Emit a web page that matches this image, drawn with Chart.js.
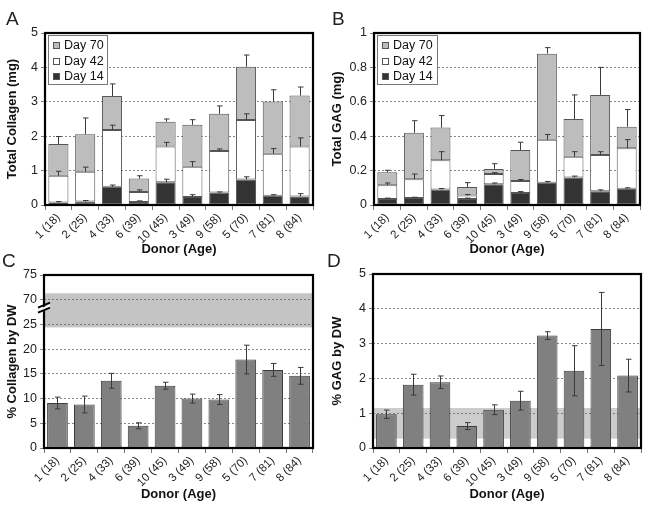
<!DOCTYPE html>
<html>
<head>
<meta charset="utf-8">
<script src="https://cdn.jsdelivr.net/npm/chart.js@4.4.0/dist/chart.umd.min.js"></script>
<style>
  body { margin: 0; background: #fff; }
  #wrap { position: relative; width: 649px; height: 505px; overflow: hidden; }
  canvas { position: absolute; }
</style>
</head>
<body>
<div id="wrap">
  <canvas id="chartA" width="325" height="260" style="left:0;top:0"></canvas>
  <canvas id="chartB" width="324" height="260" style="left:325px;top:0"></canvas>
  <canvas id="chartC" width="325" height="255" style="left:0;top:250px"></canvas>
  <canvas id="chartD" width="324" height="255" style="left:325px;top:250px"></canvas>
</div>
<script>
// donors (age) - same order in all four panels
const donors = ['1 (18)', '2 (25)', '4 (33)', '6 (39)', '10 (45)', '3 (49)', '9 (58)', '5 (70)', '7 (81)', '8 (84)'];

// A: total collagen (mg), amount added at each time point (stacked)
const colDay14 = [0.07, 0.10, 0.53, 0.09, 0.66, 0.23, 0.36, 0.74, 0.27, 0.25];
const colDay42 = [0.78, 0.87, 1.65, 0.29, 1.04, 0.88, 1.21, 1.73, 1.22, 1.45];
const colDay70 = [0.92, 1.09, 0.99, 0.39, 0.72, 1.22, 1.08, 1.55, 1.52, 1.48];
const colErr14 = [0.03, 0.03, 0.05, 0.03, 0.09, 0.07, 0.02, 0.08, 0.03, 0.08];
const colErr42 = [0.13, 0.13, 0.14, 0.06, 0.12, 0.15, 0.06, 0.18, 0.15, 0.25];
const colErr70 = [0.22, 0.47, 0.35, 0.08, 0.08, 0.15, 0.23, 0.34, 0.34, 0.25];

// B: total GAG (mg)
const gagDay14 = [0.035, 0.04, 0.09, 0.035, 0.12, 0.07, 0.13, 0.16, 0.08, 0.095];
const gagDay42 = [0.08, 0.11, 0.17, 0.02, 0.06, 0.07, 0.25, 0.12, 0.21, 0.235];
const gagDay70 = [0.075, 0.27, 0.19, 0.05, 0.03, 0.18, 0.50, 0.22, 0.35, 0.125];
const gagErr14 = [0.005, 0.005, 0.006, 0.005, 0.008, 0.008, 0.007, 0.008, 0.008, 0.005];
const gagErr42 = [0.013, 0.03, 0.05, 0.006, 0.008, 0.008, 0.03, 0.03, 0.02, 0.05];
const gagErr70 = [0.012, 0.07, 0.07, 0.025, 0.03, 0.045, 0.035, 0.14, 0.16, 0.10];

// C: % collagen by dry weight (axis is broken between 25 and 70)
const colPct = [9.1, 8.8, 13.6, 4.5, 12.6, 10.0, 9.8, 17.9, 15.8, 14.6];
const colPctErr = [1.2, 1.7, 1.5, 0.6, 0.7, 0.9, 1.0, 2.9, 1.3, 1.7];
const colPctTickLabels = ['0', '5', '10', '15', '20', '25', '70', '75'];
const colNativeBand = [24.4, 31.3];

// D: % GAG by dry weight
const gagPct = [0.97, 1.82, 1.89, 0.63, 1.10, 1.36, 3.23, 2.22, 3.42, 2.08];
const gagPctErr = [0.12, 0.30, 0.18, 0.10, 0.14, 0.27, 0.11, 0.72, 1.05, 0.47];
const gagNativeBand = [0.27, 1.15];

Chart.defaults.font.family = '"Liberation Sans", Arial, sans-serif';
Chart.defaults.color = '#111';

const legendItems = [
    { label: 'Day 70', fill: '#bdbdbd' },
    { label: 'Day 42', fill: '#ffffff' },
    { label: 'Day 14', fill: '#333333' }
];

// extra drawing: native tissue band, error bars, legend box, frame, panel letter
function extras(cfg) {
    return {
        id: 'extras',
        beforeDraw(chart) {
            if (!cfg.band) return;
            const a = chart.chartArea, y = chart.scales.y, ctx = chart.ctx;
            const y1 = y.getPixelForValue(cfg.band[1]), y0 = y.getPixelForValue(cfg.band[0]);
            ctx.save();
            ctx.fillStyle = cfg.bandColor;
            ctx.fillRect(a.left, y1, a.right - a.left, y0 - y1);
            ctx.restore();
        },
        afterDatasetsDraw(chart) {
            const ctx = chart.ctx, y = chart.scales.y;
            const unit = y.getPixelForValue(0) - y.getPixelForValue(1);
            ctx.save();
            ctx.strokeStyle = '#3a3a3a';
            ctx.lineWidth = 1;
            cfg.errors.forEach((errs, di) => {
                const meta = chart.getDatasetMeta(di);
                meta.data.forEach((bar, i) => {
                    const d = errs[i] * unit;
                    const x = Math.round(bar.x) + 0.5;
                    const top = bar.y - d;
                    const bot = cfg.twoSided ? bar.y + d : bar.y;
                    ctx.beginPath();
                    ctx.moveTo(x, bot); ctx.lineTo(x, top);
                    ctx.moveTo(x - 2.5, top); ctx.lineTo(x + 3, top);
                    if (cfg.twoSided) { ctx.moveTo(x - 2.5, bot); ctx.lineTo(x + 3, bot); }
                    ctx.stroke();
                });
            });
            if (cfg.legend) {
                const L = cfg.legend;
                ctx.fillStyle = '#fff';
                ctx.fillRect(L.x, L.y, L.w, L.h);
                ctx.strokeStyle = '#777';
                ctx.strokeRect(L.x + 0.5, L.y + 0.5, L.w, L.h);
                ctx.font = '12.5px "Liberation Sans", Arial, sans-serif';
                ctx.textBaseline = 'middle';
                legendItems.forEach((it, k) => {
                    const cy = Math.round(L.y + 10 + k * 15.5);
                    ctx.fillStyle = it.fill;
                    ctx.fillRect(L.x + 5, cy - 3, 7, 7);
                    ctx.strokeStyle = '#555';
                    ctx.strokeRect(L.x + 5.5, cy - 2.5, 6, 6);
                    ctx.fillStyle = '#111';
                    ctx.fillText(it.label, L.x + 16, cy + 1);
                });
            }
            ctx.restore();
        },
        afterDraw(chart) {
            const a = chart.chartArea, ctx = chart.ctx;
            ctx.save();
            ctx.strokeStyle = '#000';
            ctx.lineWidth = 2.2;
            ctx.strokeRect(a.left, a.top, a.right - a.left, a.bottom - a.top);
            if (cfg.axisBreak) {
                const yb = chart.scales.y.getPixelForValue(28.2);
                ctx.fillStyle = '#fff';
                ctx.beginPath();
                ctx.moveTo(a.left - 6, yb + 1); ctx.lineTo(a.left + 6, yb - 4);
                ctx.lineTo(a.left + 6, yb); ctx.lineTo(a.left - 6, yb + 5);
                ctx.closePath(); ctx.fill();
                ctx.lineWidth = 2;
                ctx.beginPath();
                ctx.moveTo(a.left - 6, yb - 1); ctx.lineTo(a.left + 6, yb - 6);
                ctx.moveTo(a.left - 6, yb + 4); ctx.lineTo(a.left + 6, yb - 1);
                ctx.stroke();
            }
            ctx.fillStyle = '#222';
            ctx.font = '19px "Liberation Sans", Arial, sans-serif';
            ctx.textBaseline = 'alphabetic';
            ctx.fillText(cfg.letter, cfg.letterX, cfg.letterY);
            ctx.restore();
        }
    };
}

function makeScales(o) {
    return {
        x: {
            stacked: o.stacked,
            afterFit: s => { s.height = o.xH; },
            grid: { offset: true, drawOnChartArea: false, tickLength: 5, color: '#777' },
            border: { display: false },
            ticks: { minRotation: 45, maxRotation: 45, autoSkip: false, padding: 1, font: { size: 11.5 }, color: '#222' },
            title: { display: true, text: 'Donor (Age)', font: { size: 13, weight: 'bold' }, color: '#111', padding: { top: 0, bottom: 3 } }
        },
        y: {
            stacked: o.stacked,
            min: o.min, max: o.max,
            afterFit: s => { s.width = o.yW; },
            grid: { color: '#666', lineWidth: 0.8, tickLength: 4, tickColor: '#666', tickBorderDash: [] },
            border: { display: false, dash: [2, 2] },
            ticks: { stepSize: o.step, padding: 3, font: { size: 12.5 }, color: '#222', callback: o.tickCb },
            title: { display: true, text: o.title, font: { size: 13, weight: 'bold' }, color: '#111', padding: { top: 5, bottom: 2 } }
        }
    };
}

function stackedSets(d14, d42, d70) {
    const base = { borderColor: '#555', borderWidth: 1, borderSkipped: false, barPercentage: 0.75, categoryPercentage: 1 };
    return [
        Object.assign({ label: 'Day 14', data: d14, backgroundColor: '#333333' }, base),
        Object.assign({ label: 'Day 42', data: d42, backgroundColor: '#ffffff' }, base),
        Object.assign({ label: 'Day 70', data: d70, backgroundColor: '#bdbdbd' }, base)
    ];
}

const common = {
    responsive: false,
    animation: false,
    plugins: { legend: { display: false }, tooltip: { enabled: false } }
};

// Panel A
new Chart(document.getElementById('chartA'), {
    type: 'bar',
    data: { labels: donors, datasets: stackedSets(colDay14, colDay42, colDay70) },
    options: Object.assign({}, common, {
        layout: { padding: { top: 33, right: 12, left: 0, bottom: 0 } },
        scales: makeScales({ stacked: true, min: 0, max: 5, step: 1, yW: 45, xH: 55, title: 'Total Collagen (mg)' })
    }),
    plugins: [extras({
        errors: [colErr14, colErr42, colErr70],
        legend: { x: 48, y: 35, w: 59, h: 49 },
        letter: 'A', letterX: 6, letterY: 25
    })]
});

// Panel B
new Chart(document.getElementById('chartB'), {
    type: 'bar',
    data: { labels: donors, datasets: stackedSets(gagDay14, gagDay42, gagDay70) },
    options: Object.assign({}, common, {
        layout: { padding: { top: 33, right: 9, left: 0, bottom: 0 } },
        scales: makeScales({ stacked: true, min: 0, max: 1, step: 0.2, yW: 49, xH: 55, title: 'Total GAG (mg)',
            tickCb: v => (v === 0 || v === 1) ? String(v) : v.toFixed(1) })
    }),
    plugins: [extras({
        errors: [gagErr14, gagErr42, gagErr70],
        legend: { x: 52, y: 35, w: 60, h: 49 },
        letter: 'B', letterX: 7, letterY: 25
    })]
});

// Panel C
new Chart(document.getElementById('chartC'), {
    type: 'bar',
    data: { labels: donors, datasets: [{ label: '% Collagen by DW', data: colPct, backgroundColor: '#808080', borderColor: '#3c3c3c', borderWidth: 1, borderSkipped: false, barPercentage: 0.77, categoryPercentage: 1 }] },
    options: Object.assign({}, common, {
        layout: { padding: { top: 25, right: 12, left: 0, bottom: 0 } },
        scales: makeScales({ stacked: false, min: 0, max: 35, step: 5, yW: 44, xH: 57, title: '% Collagen by DW',
            tickCb: (v, i) => colPctTickLabels[i] })
    }),
    plugins: [extras({
        errors: [colPctErr], twoSided: true,
        band: colNativeBand, bandColor: '#c4c4c4', axisBreak: true,
        letter: 'C', letterX: 2, letterY: 17
    })]
});

// Panel D
new Chart(document.getElementById('chartD'), {
    type: 'bar',
    data: { labels: donors, datasets: [{ label: '% GAG by DW', data: gagPct, backgroundColor: '#808080', borderColor: '#3c3c3c', borderWidth: 1, borderSkipped: false, barPercentage: 0.77, categoryPercentage: 1 }] },
    options: Object.assign({}, common, {
        layout: { padding: { top: 24, right: 8, left: 0, bottom: 0 } },
        scales: makeScales({ stacked: false, min: 0, max: 5, step: 1, yW: 48, xH: 57, title: '% GAG by DW' })
    }),
    plugins: [extras({
        errors: [gagPctErr], twoSided: true,
        band: gagNativeBand, bandColor: '#cccccc',
        letter: 'D', letterX: 2, letterY: 17
    })]
});
</script>
</body>
</html>
